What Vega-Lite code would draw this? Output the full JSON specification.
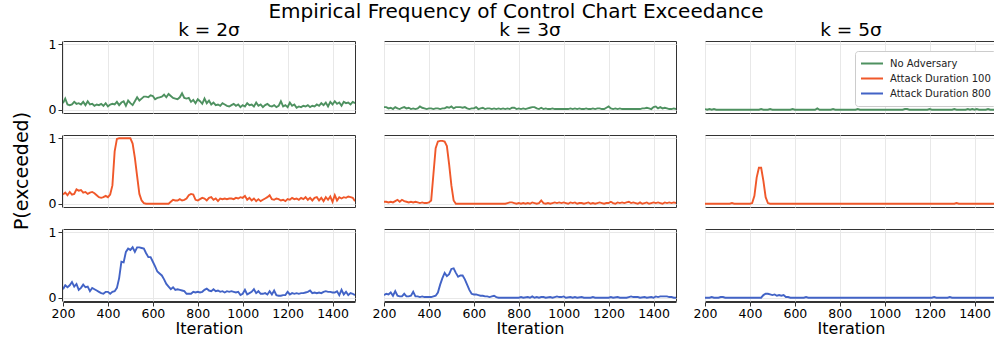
{
"$schema": "https://vega.github.io/schema/vega-lite/v6.json",
"title": {"text": "Empirical Frequency of Control Chart Exceedance", "fontSize": 20, "font": "DejaVu Sans", "fontWeight": "normal", "color": "#000", "anchor": "middle", "offset": -1, "dx": 11},
"padding": {"left": 12, "top": 1, "right": 0, "bottom": 0},
"background": "white",
"data": {"values": [
{"k":2,"s":"N","x":200,"y":0.10},{"k":2,"s":"N","x":210,"y":0.17},{"k":2,"s":"N","x":220,"y":0.08},{"k":2,"s":"N","x":230,"y":0.07},{"k":2,"s":"N","x":240,"y":0.08},{"k":2,"s":"N","x":250,"y":0.12},{"k":2,"s":"N","x":260,"y":0.09},{"k":2,"s":"N","x":270,"y":0.10},{"k":2,"s":"N","x":280,"y":0.08},{"k":2,"s":"N","x":290,"y":0.12},{"k":2,"s":"N","x":300,"y":0.07},{"k":2,"s":"N","x":310,"y":0.13},{"k":2,"s":"N","x":320,"y":0.08},{"k":2,"s":"N","x":330,"y":0.09},{"k":2,"s":"N","x":340,"y":0.06},{"k":2,"s":"N","x":350,"y":0.08},{"k":2,"s":"N","x":360,"y":0.07},{"k":2,"s":"N","x":370,"y":0.09},{"k":2,"s":"N","x":380,"y":0.06},{"k":2,"s":"N","x":390,"y":0.10},{"k":2,"s":"N","x":400,"y":0.05},{"k":2,"s":"N","x":410,"y":0.08},{"k":2,"s":"N","x":420,"y":0.09},{"k":2,"s":"N","x":430,"y":0.08},{"k":2,"s":"N","x":440,"y":0.12},{"k":2,"s":"N","x":450,"y":0.07},{"k":2,"s":"N","x":460,"y":0.11},{"k":2,"s":"N","x":470,"y":0.13},{"k":2,"s":"N","x":480,"y":0.06},{"k":2,"s":"N","x":490,"y":0.14},{"k":2,"s":"N","x":500,"y":0.10},{"k":2,"s":"N","x":510,"y":0.07},{"k":2,"s":"N","x":520,"y":0.13},{"k":2,"s":"N","x":530,"y":0.19},{"k":2,"s":"N","x":540,"y":0.14},{"k":2,"s":"N","x":550,"y":0.17},{"k":2,"s":"N","x":560,"y":0.20},{"k":2,"s":"N","x":570,"y":0.20},{"k":2,"s":"N","x":580,"y":0.19},{"k":2,"s":"N","x":590,"y":0.22},{"k":2,"s":"N","x":600,"y":0.21},{"k":2,"s":"N","x":610,"y":0.16},{"k":2,"s":"N","x":620,"y":0.18},{"k":2,"s":"N","x":630,"y":0.19},{"k":2,"s":"N","x":640,"y":0.20},{"k":2,"s":"N","x":650,"y":0.23},{"k":2,"s":"N","x":660,"y":0.19},{"k":2,"s":"N","x":670,"y":0.24},{"k":2,"s":"N","x":680,"y":0.21},{"k":2,"s":"N","x":690,"y":0.18},{"k":2,"s":"N","x":700,"y":0.17},{"k":2,"s":"N","x":710,"y":0.16},{"k":2,"s":"N","x":720,"y":0.19},{"k":2,"s":"N","x":730,"y":0.25},{"k":2,"s":"N","x":740,"y":0.18},{"k":2,"s":"N","x":750,"y":0.17},{"k":2,"s":"N","x":760,"y":0.18},{"k":2,"s":"N","x":770,"y":0.12},{"k":2,"s":"N","x":780,"y":0.15},{"k":2,"s":"N","x":790,"y":0.10},{"k":2,"s":"N","x":800,"y":0.16},{"k":2,"s":"N","x":810,"y":0.13},{"k":2,"s":"N","x":820,"y":0.09},{"k":2,"s":"N","x":830,"y":0.17},{"k":2,"s":"N","x":840,"y":0.10},{"k":2,"s":"N","x":850,"y":0.14},{"k":2,"s":"N","x":860,"y":0.08},{"k":2,"s":"N","x":870,"y":0.11},{"k":2,"s":"N","x":880,"y":0.07},{"k":2,"s":"N","x":890,"y":0.08},{"k":2,"s":"N","x":900,"y":0.06},{"k":2,"s":"N","x":910,"y":0.10},{"k":2,"s":"N","x":920,"y":0.08},{"k":2,"s":"N","x":930,"y":0.06},{"k":2,"s":"N","x":940,"y":0.05},{"k":2,"s":"N","x":950,"y":0.07},{"k":2,"s":"N","x":960,"y":0.09},{"k":2,"s":"N","x":970,"y":0.06},{"k":2,"s":"N","x":980,"y":0.08},{"k":2,"s":"N","x":990,"y":0.04},{"k":2,"s":"N","x":1000,"y":0.07},{"k":2,"s":"N","x":1010,"y":0.05},{"k":2,"s":"N","x":1020,"y":0.10},{"k":2,"s":"N","x":1030,"y":0.07},{"k":2,"s":"N","x":1040,"y":0.08},{"k":2,"s":"N","x":1050,"y":0.05},{"k":2,"s":"N","x":1060,"y":0.11},{"k":2,"s":"N","x":1070,"y":0.06},{"k":2,"s":"N","x":1080,"y":0.08},{"k":2,"s":"N","x":1090,"y":0.04},{"k":2,"s":"N","x":1100,"y":0.07},{"k":2,"s":"N","x":1110,"y":0.09},{"k":2,"s":"N","x":1120,"y":0.06},{"k":2,"s":"N","x":1130,"y":0.05},{"k":2,"s":"N","x":1140,"y":0.07},{"k":2,"s":"N","x":1150,"y":0.04},{"k":2,"s":"N","x":1160,"y":0.06},{"k":2,"s":"N","x":1170,"y":0.13},{"k":2,"s":"N","x":1180,"y":0.05},{"k":2,"s":"N","x":1190,"y":0.07},{"k":2,"s":"N","x":1200,"y":0.04},{"k":2,"s":"N","x":1210,"y":0.11},{"k":2,"s":"N","x":1220,"y":0.06},{"k":2,"s":"N","x":1230,"y":0.08},{"k":2,"s":"N","x":1240,"y":0.03},{"k":2,"s":"N","x":1250,"y":0.05},{"k":2,"s":"N","x":1260,"y":0.04},{"k":2,"s":"N","x":1270,"y":0.06},{"k":2,"s":"N","x":1280,"y":0.05},{"k":2,"s":"N","x":1290,"y":0.07},{"k":2,"s":"N","x":1300,"y":0.04},{"k":2,"s":"N","x":1310,"y":0.06},{"k":2,"s":"N","x":1320,"y":0.05},{"k":2,"s":"N","x":1330,"y":0.08},{"k":2,"s":"N","x":1340,"y":0.06},{"k":2,"s":"N","x":1350,"y":0.10},{"k":2,"s":"N","x":1360,"y":0.07},{"k":2,"s":"N","x":1370,"y":0.11},{"k":2,"s":"N","x":1380,"y":0.05},{"k":2,"s":"N","x":1390,"y":0.12},{"k":2,"s":"N","x":1400,"y":0.08},{"k":2,"s":"N","x":1410,"y":0.13},{"k":2,"s":"N","x":1420,"y":0.09},{"k":2,"s":"N","x":1430,"y":0.11},{"k":2,"s":"N","x":1440,"y":0.06},{"k":2,"s":"N","x":1450,"y":0.12},{"k":2,"s":"N","x":1460,"y":0.10},{"k":2,"s":"N","x":1470,"y":0.11},{"k":2,"s":"N","x":1480,"y":0.08},{"k":2,"s":"N","x":1490,"y":0.12},{"k":2,"s":"N","x":1500,"y":0.10},
{"k":2,"s":"A100","x":200,"y":0.14},{"k":2,"s":"A100","x":210,"y":0.17},{"k":2,"s":"A100","x":220,"y":0.13},{"k":2,"s":"A100","x":230,"y":0.18},{"k":2,"s":"A100","x":240,"y":0.14},{"k":2,"s":"A100","x":250,"y":0.15},{"k":2,"s":"A100","x":260,"y":0.22},{"k":2,"s":"A100","x":270,"y":0.20},{"k":2,"s":"A100","x":280,"y":0.21},{"k":2,"s":"A100","x":290,"y":0.17},{"k":2,"s":"A100","x":300,"y":0.18},{"k":2,"s":"A100","x":310,"y":0.15},{"k":2,"s":"A100","x":320,"y":0.17},{"k":2,"s":"A100","x":330,"y":0.18},{"k":2,"s":"A100","x":340,"y":0.16},{"k":2,"s":"A100","x":350,"y":0.13},{"k":2,"s":"A100","x":360,"y":0.10},{"k":2,"s":"A100","x":370,"y":0.09},{"k":2,"s":"A100","x":380,"y":0.10},{"k":2,"s":"A100","x":390,"y":0.12},{"k":2,"s":"A100","x":400,"y":0.10},{"k":2,"s":"A100","x":410,"y":0.14},{"k":2,"s":"A100","x":420,"y":0.28},{"k":2,"s":"A100","x":430,"y":0.80},{"k":2,"s":"A100","x":440,"y":0.99},{"k":2,"s":"A100","x":450,"y":1.0},{"k":2,"s":"A100","x":460,"y":1.0},{"k":2,"s":"A100","x":470,"y":1.0},{"k":2,"s":"A100","x":480,"y":1.0},{"k":2,"s":"A100","x":490,"y":1.0},{"k":2,"s":"A100","x":500,"y":1.0},{"k":2,"s":"A100","x":510,"y":0.92},{"k":2,"s":"A100","x":520,"y":0.70},{"k":2,"s":"A100","x":530,"y":0.42},{"k":2,"s":"A100","x":540,"y":0.15},{"k":2,"s":"A100","x":550,"y":0.05},{"k":2,"s":"A100","x":560,"y":0.01},{"k":2,"s":"A100","x":570,"y":0.0},{"k":2,"s":"A100","x":600,"y":0.0},{"k":2,"s":"A100","x":640,"y":0.0},{"k":2,"s":"A100","x":670,"y":0.0},{"k":2,"s":"A100","x":680,"y":0.03},{"k":2,"s":"A100","x":690,"y":0.06},{"k":2,"s":"A100","x":700,"y":0.05},{"k":2,"s":"A100","x":710,"y":0.05},{"k":2,"s":"A100","x":720,"y":0.07},{"k":2,"s":"A100","x":730,"y":0.05},{"k":2,"s":"A100","x":740,"y":0.06},{"k":2,"s":"A100","x":750,"y":0.08},{"k":2,"s":"A100","x":760,"y":0.13},{"k":2,"s":"A100","x":770,"y":0.15},{"k":2,"s":"A100","x":780,"y":0.14},{"k":2,"s":"A100","x":790,"y":0.06},{"k":2,"s":"A100","x":800,"y":0.05},{"k":2,"s":"A100","x":810,"y":0.07},{"k":2,"s":"A100","x":820,"y":0.09},{"k":2,"s":"A100","x":830,"y":0.08},{"k":2,"s":"A100","x":840,"y":0.05},{"k":2,"s":"A100","x":850,"y":0.09},{"k":2,"s":"A100","x":860,"y":0.10},{"k":2,"s":"A100","x":870,"y":0.06},{"k":2,"s":"A100","x":880,"y":0.08},{"k":2,"s":"A100","x":890,"y":0.04},{"k":2,"s":"A100","x":900,"y":0.08},{"k":2,"s":"A100","x":910,"y":0.07},{"k":2,"s":"A100","x":920,"y":0.08},{"k":2,"s":"A100","x":930,"y":0.07},{"k":2,"s":"A100","x":940,"y":0.08},{"k":2,"s":"A100","x":950,"y":0.08},{"k":2,"s":"A100","x":960,"y":0.07},{"k":2,"s":"A100","x":970,"y":0.09},{"k":2,"s":"A100","x":980,"y":0.08},{"k":2,"s":"A100","x":990,"y":0.10},{"k":2,"s":"A100","x":1000,"y":0.09},{"k":2,"s":"A100","x":1010,"y":0.12},{"k":2,"s":"A100","x":1020,"y":0.06},{"k":2,"s":"A100","x":1030,"y":0.09},{"k":2,"s":"A100","x":1040,"y":0.05},{"k":2,"s":"A100","x":1050,"y":0.08},{"k":2,"s":"A100","x":1060,"y":0.04},{"k":2,"s":"A100","x":1070,"y":0.07},{"k":2,"s":"A100","x":1080,"y":0.04},{"k":2,"s":"A100","x":1090,"y":0.06},{"k":2,"s":"A100","x":1100,"y":0.08},{"k":2,"s":"A100","x":1110,"y":0.10},{"k":2,"s":"A100","x":1120,"y":0.13},{"k":2,"s":"A100","x":1130,"y":0.07},{"k":2,"s":"A100","x":1140,"y":0.06},{"k":2,"s":"A100","x":1150,"y":0.08},{"k":2,"s":"A100","x":1160,"y":0.07},{"k":2,"s":"A100","x":1170,"y":0.05},{"k":2,"s":"A100","x":1180,"y":0.06},{"k":2,"s":"A100","x":1190,"y":0.04},{"k":2,"s":"A100","x":1200,"y":0.07},{"k":2,"s":"A100","x":1210,"y":0.06},{"k":2,"s":"A100","x":1220,"y":0.09},{"k":2,"s":"A100","x":1230,"y":0.07},{"k":2,"s":"A100","x":1240,"y":0.08},{"k":2,"s":"A100","x":1250,"y":0.06},{"k":2,"s":"A100","x":1260,"y":0.09},{"k":2,"s":"A100","x":1270,"y":0.07},{"k":2,"s":"A100","x":1280,"y":0.10},{"k":2,"s":"A100","x":1290,"y":0.06},{"k":2,"s":"A100","x":1300,"y":0.09},{"k":2,"s":"A100","x":1310,"y":0.05},{"k":2,"s":"A100","x":1320,"y":0.09},{"k":2,"s":"A100","x":1330,"y":0.10},{"k":2,"s":"A100","x":1340,"y":0.05},{"k":2,"s":"A100","x":1350,"y":0.09},{"k":2,"s":"A100","x":1360,"y":0.04},{"k":2,"s":"A100","x":1370,"y":0.10},{"k":2,"s":"A100","x":1380,"y":0.06},{"k":2,"s":"A100","x":1390,"y":0.11},{"k":2,"s":"A100","x":1400,"y":0.03},{"k":2,"s":"A100","x":1410,"y":0.13},{"k":2,"s":"A100","x":1420,"y":0.05},{"k":2,"s":"A100","x":1430,"y":0.10},{"k":2,"s":"A100","x":1440,"y":0.08},{"k":2,"s":"A100","x":1450,"y":0.10},{"k":2,"s":"A100","x":1460,"y":0.09},{"k":2,"s":"A100","x":1470,"y":0.11},{"k":2,"s":"A100","x":1480,"y":0.10},{"k":2,"s":"A100","x":1490,"y":0.09},{"k":2,"s":"A100","x":1500,"y":0.04},
{"k":2,"s":"A800","x":200,"y":0.13},{"k":2,"s":"A800","x":210,"y":0.19},{"k":2,"s":"A800","x":220,"y":0.16},{"k":2,"s":"A800","x":230,"y":0.19},{"k":2,"s":"A800","x":240,"y":0.24},{"k":2,"s":"A800","x":250,"y":0.17},{"k":2,"s":"A800","x":260,"y":0.21},{"k":2,"s":"A800","x":270,"y":0.12},{"k":2,"s":"A800","x":280,"y":0.15},{"k":2,"s":"A800","x":290,"y":0.20},{"k":2,"s":"A800","x":300,"y":0.16},{"k":2,"s":"A800","x":310,"y":0.17},{"k":2,"s":"A800","x":320,"y":0.10},{"k":2,"s":"A800","x":330,"y":0.15},{"k":2,"s":"A800","x":340,"y":0.13},{"k":2,"s":"A800","x":350,"y":0.11},{"k":2,"s":"A800","x":360,"y":0.09},{"k":2,"s":"A800","x":370,"y":0.07},{"k":2,"s":"A800","x":380,"y":0.06},{"k":2,"s":"A800","x":390,"y":0.09},{"k":2,"s":"A800","x":400,"y":0.09},{"k":2,"s":"A800","x":410,"y":0.06},{"k":2,"s":"A800","x":420,"y":0.09},{"k":2,"s":"A800","x":430,"y":0.10},{"k":2,"s":"A800","x":440,"y":0.15},{"k":2,"s":"A800","x":450,"y":0.30},{"k":2,"s":"A800","x":460,"y":0.55},{"k":2,"s":"A800","x":470,"y":0.54},{"k":2,"s":"A800","x":480,"y":0.70},{"k":2,"s":"A800","x":490,"y":0.75},{"k":2,"s":"A800","x":500,"y":0.73},{"k":2,"s":"A800","x":510,"y":0.77},{"k":2,"s":"A800","x":520,"y":0.70},{"k":2,"s":"A800","x":530,"y":0.77},{"k":2,"s":"A800","x":540,"y":0.77},{"k":2,"s":"A800","x":550,"y":0.76},{"k":2,"s":"A800","x":560,"y":0.75},{"k":2,"s":"A800","x":570,"y":0.68},{"k":2,"s":"A800","x":580,"y":0.62},{"k":2,"s":"A800","x":590,"y":0.62},{"k":2,"s":"A800","x":600,"y":0.55},{"k":2,"s":"A800","x":610,"y":0.48},{"k":2,"s":"A800","x":620,"y":0.40},{"k":2,"s":"A800","x":630,"y":0.37},{"k":2,"s":"A800","x":640,"y":0.34},{"k":2,"s":"A800","x":650,"y":0.28},{"k":2,"s":"A800","x":660,"y":0.21},{"k":2,"s":"A800","x":670,"y":0.17},{"k":2,"s":"A800","x":680,"y":0.13},{"k":2,"s":"A800","x":690,"y":0.16},{"k":2,"s":"A800","x":700,"y":0.12},{"k":2,"s":"A800","x":710,"y":0.13},{"k":2,"s":"A800","x":720,"y":0.12},{"k":2,"s":"A800","x":730,"y":0.11},{"k":2,"s":"A800","x":740,"y":0.10},{"k":2,"s":"A800","x":750,"y":0.06},{"k":2,"s":"A800","x":760,"y":0.06},{"k":2,"s":"A800","x":770,"y":0.06},{"k":2,"s":"A800","x":780,"y":0.09},{"k":2,"s":"A800","x":790,"y":0.08},{"k":2,"s":"A800","x":800,"y":0.09},{"k":2,"s":"A800","x":810,"y":0.08},{"k":2,"s":"A800","x":820,"y":0.09},{"k":2,"s":"A800","x":830,"y":0.12},{"k":2,"s":"A800","x":840,"y":0.14},{"k":2,"s":"A800","x":850,"y":0.11},{"k":2,"s":"A800","x":860,"y":0.10},{"k":2,"s":"A800","x":870,"y":0.13},{"k":2,"s":"A800","x":880,"y":0.10},{"k":2,"s":"A800","x":890,"y":0.11},{"k":2,"s":"A800","x":900,"y":0.09},{"k":2,"s":"A800","x":910,"y":0.10},{"k":2,"s":"A800","x":920,"y":0.08},{"k":2,"s":"A800","x":930,"y":0.10},{"k":2,"s":"A800","x":940,"y":0.09},{"k":2,"s":"A800","x":950,"y":0.10},{"k":2,"s":"A800","x":960,"y":0.09},{"k":2,"s":"A800","x":970,"y":0.08},{"k":2,"s":"A800","x":980,"y":0.09},{"k":2,"s":"A800","x":990,"y":0.04},{"k":2,"s":"A800","x":1000,"y":0.06},{"k":2,"s":"A800","x":1010,"y":0.12},{"k":2,"s":"A800","x":1020,"y":0.05},{"k":2,"s":"A800","x":1030,"y":0.07},{"k":2,"s":"A800","x":1040,"y":0.09},{"k":2,"s":"A800","x":1050,"y":0.13},{"k":2,"s":"A800","x":1060,"y":0.07},{"k":2,"s":"A800","x":1070,"y":0.10},{"k":2,"s":"A800","x":1080,"y":0.06},{"k":2,"s":"A800","x":1090,"y":0.06},{"k":2,"s":"A800","x":1100,"y":0.07},{"k":2,"s":"A800","x":1110,"y":0.05},{"k":2,"s":"A800","x":1120,"y":0.10},{"k":2,"s":"A800","x":1130,"y":0.05},{"k":2,"s":"A800","x":1140,"y":0.11},{"k":2,"s":"A800","x":1150,"y":0.04},{"k":2,"s":"A800","x":1160,"y":0.03},{"k":2,"s":"A800","x":1170,"y":0.03},{"k":2,"s":"A800","x":1180,"y":0.04},{"k":2,"s":"A800","x":1190,"y":0.04},{"k":2,"s":"A800","x":1200,"y":0.09},{"k":2,"s":"A800","x":1210,"y":0.05},{"k":2,"s":"A800","x":1220,"y":0.07},{"k":2,"s":"A800","x":1230,"y":0.06},{"k":2,"s":"A800","x":1240,"y":0.07},{"k":2,"s":"A800","x":1250,"y":0.06},{"k":2,"s":"A800","x":1260,"y":0.07},{"k":2,"s":"A800","x":1270,"y":0.07},{"k":2,"s":"A800","x":1280,"y":0.08},{"k":2,"s":"A800","x":1290,"y":0.09},{"k":2,"s":"A800","x":1300,"y":0.11},{"k":2,"s":"A800","x":1310,"y":0.07},{"k":2,"s":"A800","x":1320,"y":0.08},{"k":2,"s":"A800","x":1330,"y":0.07},{"k":2,"s":"A800","x":1340,"y":0.08},{"k":2,"s":"A800","x":1350,"y":0.07},{"k":2,"s":"A800","x":1360,"y":0.09},{"k":2,"s":"A800","x":1370,"y":0.10},{"k":2,"s":"A800","x":1380,"y":0.09},{"k":2,"s":"A800","x":1390,"y":0.09},{"k":2,"s":"A800","x":1400,"y":0.08},{"k":2,"s":"A800","x":1410,"y":0.08},{"k":2,"s":"A800","x":1420,"y":0.10},{"k":2,"s":"A800","x":1430,"y":0.04},{"k":2,"s":"A800","x":1440,"y":0.12},{"k":2,"s":"A800","x":1450,"y":0.05},{"k":2,"s":"A800","x":1460,"y":0.09},{"k":2,"s":"A800","x":1470,"y":0.04},{"k":2,"s":"A800","x":1480,"y":0.07},{"k":2,"s":"A800","x":1490,"y":0.06},{"k":2,"s":"A800","x":1500,"y":0.04},
{"k":3,"s":"N","x":200,"y":0.04},{"k":3,"s":"N","x":210,"y":0.04},{"k":3,"s":"N","x":220,"y":0.02},{"k":3,"s":"N","x":230,"y":0.03},{"k":3,"s":"N","x":240,"y":0.01},{"k":3,"s":"N","x":250,"y":0.04},{"k":3,"s":"N","x":260,"y":0.02},{"k":3,"s":"N","x":270,"y":0.01},{"k":3,"s":"N","x":280,"y":0.03},{"k":3,"s":"N","x":290,"y":0.04},{"k":3,"s":"N","x":300,"y":0.02},{"k":3,"s":"N","x":310,"y":0.03},{"k":3,"s":"N","x":320,"y":0.01},{"k":3,"s":"N","x":330,"y":0.02},{"k":3,"s":"N","x":340,"y":0.01},{"k":3,"s":"N","x":350,"y":0.02},{"k":3,"s":"N","x":360,"y":0.05},{"k":3,"s":"N","x":370,"y":0.03},{"k":3,"s":"N","x":380,"y":0.02},{"k":3,"s":"N","x":390,"y":0.01},{"k":3,"s":"N","x":400,"y":0.02},{"k":3,"s":"N","x":410,"y":0.02},{"k":3,"s":"N","x":420,"y":0.01},{"k":3,"s":"N","x":430,"y":0.02},{"k":3,"s":"N","x":440,"y":0.02},{"k":3,"s":"N","x":450,"y":0.01},{"k":3,"s":"N","x":460,"y":0.02},{"k":3,"s":"N","x":470,"y":0.02},{"k":3,"s":"N","x":480,"y":0.04},{"k":3,"s":"N","x":490,"y":0.03},{"k":3,"s":"N","x":500,"y":0.05},{"k":3,"s":"N","x":510,"y":0.02},{"k":3,"s":"N","x":520,"y":0.04},{"k":3,"s":"N","x":530,"y":0.04},{"k":3,"s":"N","x":540,"y":0.04},{"k":3,"s":"N","x":550,"y":0.03},{"k":3,"s":"N","x":560,"y":0.04},{"k":3,"s":"N","x":570,"y":0.02},{"k":3,"s":"N","x":580,"y":0.01},{"k":3,"s":"N","x":590,"y":0.02},{"k":3,"s":"N","x":600,"y":0.02},{"k":3,"s":"N","x":610,"y":0.04},{"k":3,"s":"N","x":620,"y":0.01},{"k":3,"s":"N","x":630,"y":0.02},{"k":3,"s":"N","x":640,"y":0.03},{"k":3,"s":"N","x":650,"y":0.01},{"k":3,"s":"N","x":660,"y":0.02},{"k":3,"s":"N","x":670,"y":0.02},{"k":3,"s":"N","x":680,"y":0.01},{"k":3,"s":"N","x":690,"y":0.02},{"k":3,"s":"N","x":700,"y":0.01},{"k":3,"s":"N","x":710,"y":0.02},{"k":3,"s":"N","x":720,"y":0.01},{"k":3,"s":"N","x":730,"y":0.02},{"k":3,"s":"N","x":740,"y":0.01},{"k":3,"s":"N","x":750,"y":0.02},{"k":3,"s":"N","x":760,"y":0.01},{"k":3,"s":"N","x":770,"y":0.03},{"k":3,"s":"N","x":780,"y":0.03},{"k":3,"s":"N","x":790,"y":0.01},{"k":3,"s":"N","x":800,"y":0.02},{"k":3,"s":"N","x":810,"y":0.01},{"k":3,"s":"N","x":820,"y":0.02},{"k":3,"s":"N","x":830,"y":0.01},{"k":3,"s":"N","x":840,"y":0.02},{"k":3,"s":"N","x":850,"y":0.03},{"k":3,"s":"N","x":860,"y":0.04},{"k":3,"s":"N","x":870,"y":0.04},{"k":3,"s":"N","x":880,"y":0.02},{"k":3,"s":"N","x":890,"y":0.01},{"k":3,"s":"N","x":900,"y":0.03},{"k":3,"s":"N","x":910,"y":0.01},{"k":3,"s":"N","x":920,"y":0.02},{"k":3,"s":"N","x":930,"y":0.01},{"k":3,"s":"N","x":940,"y":0.01},{"k":3,"s":"N","x":950,"y":0.02},{"k":3,"s":"N","x":960,"y":0.01},{"k":3,"s":"N","x":970,"y":0.01},{"k":3,"s":"N","x":980,"y":0.01},{"k":3,"s":"N","x":990,"y":0.01},{"k":3,"s":"N","x":1000,"y":0.01},{"k":3,"s":"N","x":1010,"y":0.01},{"k":3,"s":"N","x":1020,"y":0.01},{"k":3,"s":"N","x":1030,"y":0.02},{"k":3,"s":"N","x":1040,"y":0.01},{"k":3,"s":"N","x":1050,"y":0.02},{"k":3,"s":"N","x":1060,"y":0.01},{"k":3,"s":"N","x":1070,"y":0.02},{"k":3,"s":"N","x":1080,"y":0.01},{"k":3,"s":"N","x":1090,"y":0.01},{"k":3,"s":"N","x":1100,"y":0.02},{"k":3,"s":"N","x":1110,"y":0.01},{"k":3,"s":"N","x":1120,"y":0.01},{"k":3,"s":"N","x":1130,"y":0.02},{"k":3,"s":"N","x":1140,"y":0.01},{"k":3,"s":"N","x":1150,"y":0.02},{"k":3,"s":"N","x":1160,"y":0.02},{"k":3,"s":"N","x":1170,"y":0.01},{"k":3,"s":"N","x":1180,"y":0.01},{"k":3,"s":"N","x":1190,"y":0.03},{"k":3,"s":"N","x":1200,"y":0.05},{"k":3,"s":"N","x":1210,"y":0.02},{"k":3,"s":"N","x":1220,"y":0.01},{"k":3,"s":"N","x":1230,"y":0.02},{"k":3,"s":"N","x":1240,"y":0.01},{"k":3,"s":"N","x":1250,"y":0.02},{"k":3,"s":"N","x":1260,"y":0.01},{"k":3,"s":"N","x":1270,"y":0.01},{"k":3,"s":"N","x":1280,"y":0.01},{"k":3,"s":"N","x":1290,"y":0.01},{"k":3,"s":"N","x":1300,"y":0.01},{"k":3,"s":"N","x":1310,"y":0.01},{"k":3,"s":"N","x":1320,"y":0.01},{"k":3,"s":"N","x":1330,"y":0.01},{"k":3,"s":"N","x":1340,"y":0.01},{"k":3,"s":"N","x":1350,"y":0.02},{"k":3,"s":"N","x":1360,"y":0.02},{"k":3,"s":"N","x":1370,"y":0.03},{"k":3,"s":"N","x":1380,"y":0.02},{"k":3,"s":"N","x":1390,"y":0.01},{"k":3,"s":"N","x":1400,"y":0.04},{"k":3,"s":"N","x":1410,"y":0.05},{"k":3,"s":"N","x":1420,"y":0.02},{"k":3,"s":"N","x":1430,"y":0.04},{"k":3,"s":"N","x":1440,"y":0.02},{"k":3,"s":"N","x":1450,"y":0.03},{"k":3,"s":"N","x":1460,"y":0.02},{"k":3,"s":"N","x":1470,"y":0.01},{"k":3,"s":"N","x":1480,"y":0.01},{"k":3,"s":"N","x":1490,"y":0.02},{"k":3,"s":"N","x":1500,"y":0.01},
{"k":3,"s":"A100","x":200,"y":0.03},{"k":3,"s":"A100","x":210,"y":0.03},{"k":3,"s":"A100","x":220,"y":0.02},{"k":3,"s":"A100","x":230,"y":0.03},{"k":3,"s":"A100","x":240,"y":0.02},{"k":3,"s":"A100","x":250,"y":0.04},{"k":3,"s":"A100","x":260,"y":0.06},{"k":3,"s":"A100","x":270,"y":0.03},{"k":3,"s":"A100","x":280,"y":0.06},{"k":3,"s":"A100","x":290,"y":0.04},{"k":3,"s":"A100","x":300,"y":0.03},{"k":3,"s":"A100","x":310,"y":0.02},{"k":3,"s":"A100","x":320,"y":0.03},{"k":3,"s":"A100","x":330,"y":0.02},{"k":3,"s":"A100","x":340,"y":0.03},{"k":3,"s":"A100","x":350,"y":0.02},{"k":3,"s":"A100","x":360,"y":0.01},{"k":3,"s":"A100","x":370,"y":0.02},{"k":3,"s":"A100","x":380,"y":0.01},{"k":3,"s":"A100","x":390,"y":0.01},{"k":3,"s":"A100","x":400,"y":0.02},{"k":3,"s":"A100","x":410,"y":0.05},{"k":3,"s":"A100","x":420,"y":0.45},{"k":3,"s":"A100","x":430,"y":0.85},{"k":3,"s":"A100","x":440,"y":0.95},{"k":3,"s":"A100","x":450,"y":0.96},{"k":3,"s":"A100","x":460,"y":0.96},{"k":3,"s":"A100","x":470,"y":0.95},{"k":3,"s":"A100","x":480,"y":0.88},{"k":3,"s":"A100","x":490,"y":0.60},{"k":3,"s":"A100","x":500,"y":0.28},{"k":3,"s":"A100","x":510,"y":0.05},{"k":3,"s":"A100","x":520,"y":0.0},{"k":3,"s":"A100","x":600,"y":0.0},{"k":3,"s":"A100","x":700,"y":0.0},{"k":3,"s":"A100","x":740,"y":0.0},{"k":3,"s":"A100","x":750,"y":0.01},{"k":3,"s":"A100","x":760,"y":0.02},{"k":3,"s":"A100","x":770,"y":0.02},{"k":3,"s":"A100","x":780,"y":0.01},{"k":3,"s":"A100","x":790,"y":0.0},{"k":3,"s":"A100","x":800,"y":0.01},{"k":3,"s":"A100","x":810,"y":0.0},{"k":3,"s":"A100","x":820,"y":0.01},{"k":3,"s":"A100","x":830,"y":0.0},{"k":3,"s":"A100","x":840,"y":0.01},{"k":3,"s":"A100","x":850,"y":0.0},{"k":3,"s":"A100","x":860,"y":0.02},{"k":3,"s":"A100","x":870,"y":0.01},{"k":3,"s":"A100","x":880,"y":0.0},{"k":3,"s":"A100","x":890,"y":0.01},{"k":3,"s":"A100","x":900,"y":0.05},{"k":3,"s":"A100","x":910,"y":0.01},{"k":3,"s":"A100","x":920,"y":0.0},{"k":3,"s":"A100","x":930,"y":0.01},{"k":3,"s":"A100","x":940,"y":0.0},{"k":3,"s":"A100","x":950,"y":0.01},{"k":3,"s":"A100","x":960,"y":0.02},{"k":3,"s":"A100","x":970,"y":0.01},{"k":3,"s":"A100","x":980,"y":0.02},{"k":3,"s":"A100","x":990,"y":0.01},{"k":3,"s":"A100","x":1000,"y":0.02},{"k":3,"s":"A100","x":1010,"y":0.01},{"k":3,"s":"A100","x":1020,"y":0.0},{"k":3,"s":"A100","x":1030,"y":0.02},{"k":3,"s":"A100","x":1040,"y":0.01},{"k":3,"s":"A100","x":1050,"y":0.02},{"k":3,"s":"A100","x":1060,"y":0.0},{"k":3,"s":"A100","x":1070,"y":0.01},{"k":3,"s":"A100","x":1080,"y":0.01},{"k":3,"s":"A100","x":1090,"y":0.0},{"k":3,"s":"A100","x":1100,"y":0.01},{"k":3,"s":"A100","x":1110,"y":0.02},{"k":3,"s":"A100","x":1120,"y":0.0},{"k":3,"s":"A100","x":1130,"y":0.01},{"k":3,"s":"A100","x":1140,"y":0.0},{"k":3,"s":"A100","x":1150,"y":0.01},{"k":3,"s":"A100","x":1160,"y":0.02},{"k":3,"s":"A100","x":1170,"y":0.01},{"k":3,"s":"A100","x":1180,"y":0.0},{"k":3,"s":"A100","x":1190,"y":0.01},{"k":3,"s":"A100","x":1200,"y":0.01},{"k":3,"s":"A100","x":1210,"y":0.03},{"k":3,"s":"A100","x":1220,"y":0.01},{"k":3,"s":"A100","x":1230,"y":0.0},{"k":3,"s":"A100","x":1240,"y":0.02},{"k":3,"s":"A100","x":1250,"y":0.01},{"k":3,"s":"A100","x":1260,"y":0.02},{"k":3,"s":"A100","x":1270,"y":0.01},{"k":3,"s":"A100","x":1280,"y":0.02},{"k":3,"s":"A100","x":1290,"y":0.03},{"k":3,"s":"A100","x":1300,"y":0.01},{"k":3,"s":"A100","x":1310,"y":0.02},{"k":3,"s":"A100","x":1320,"y":0.01},{"k":3,"s":"A100","x":1330,"y":0.0},{"k":3,"s":"A100","x":1340,"y":0.02},{"k":3,"s":"A100","x":1350,"y":0.0},{"k":3,"s":"A100","x":1360,"y":0.01},{"k":3,"s":"A100","x":1370,"y":0.02},{"k":3,"s":"A100","x":1380,"y":0.0},{"k":3,"s":"A100","x":1390,"y":0.01},{"k":3,"s":"A100","x":1400,"y":0.02},{"k":3,"s":"A100","x":1410,"y":0.01},{"k":3,"s":"A100","x":1420,"y":0.02},{"k":3,"s":"A100","x":1430,"y":0.01},{"k":3,"s":"A100","x":1440,"y":0.0},{"k":3,"s":"A100","x":1450,"y":0.02},{"k":3,"s":"A100","x":1460,"y":0.01},{"k":3,"s":"A100","x":1470,"y":0.02},{"k":3,"s":"A100","x":1480,"y":0.01},{"k":3,"s":"A100","x":1490,"y":0.02},{"k":3,"s":"A100","x":1500,"y":0.01},
{"k":3,"s":"A800","x":200,"y":0.04},{"k":3,"s":"A800","x":210,"y":0.06},{"k":3,"s":"A800","x":220,"y":0.05},{"k":3,"s":"A800","x":230,"y":0.08},{"k":3,"s":"A800","x":240,"y":0.03},{"k":3,"s":"A800","x":250,"y":0.10},{"k":3,"s":"A800","x":260,"y":0.03},{"k":3,"s":"A800","x":270,"y":0.02},{"k":3,"s":"A800","x":280,"y":0.02},{"k":3,"s":"A800","x":290,"y":0.06},{"k":3,"s":"A800","x":300,"y":0.02},{"k":3,"s":"A800","x":310,"y":0.02},{"k":3,"s":"A800","x":320,"y":0.03},{"k":3,"s":"A800","x":330,"y":0.09},{"k":3,"s":"A800","x":340,"y":0.02},{"k":3,"s":"A800","x":350,"y":0.02},{"k":3,"s":"A800","x":360,"y":0.01},{"k":3,"s":"A800","x":370,"y":0.02},{"k":3,"s":"A800","x":380,"y":0.01},{"k":3,"s":"A800","x":390,"y":0.01},{"k":3,"s":"A800","x":400,"y":0.01},{"k":3,"s":"A800","x":410,"y":0.01},{"k":3,"s":"A800","x":420,"y":0.02},{"k":3,"s":"A800","x":430,"y":0.03},{"k":3,"s":"A800","x":440,"y":0.08},{"k":3,"s":"A800","x":450,"y":0.20},{"k":3,"s":"A800","x":460,"y":0.30},{"k":3,"s":"A800","x":470,"y":0.38},{"k":3,"s":"A800","x":480,"y":0.33},{"k":3,"s":"A800","x":490,"y":0.36},{"k":3,"s":"A800","x":500,"y":0.44},{"k":3,"s":"A800","x":510,"y":0.45},{"k":3,"s":"A800","x":520,"y":0.38},{"k":3,"s":"A800","x":530,"y":0.32},{"k":3,"s":"A800","x":540,"y":0.34},{"k":3,"s":"A800","x":550,"y":0.34},{"k":3,"s":"A800","x":560,"y":0.28},{"k":3,"s":"A800","x":570,"y":0.20},{"k":3,"s":"A800","x":580,"y":0.12},{"k":3,"s":"A800","x":590,"y":0.06},{"k":3,"s":"A800","x":600,"y":0.05},{"k":3,"s":"A800","x":610,"y":0.05},{"k":3,"s":"A800","x":620,"y":0.04},{"k":3,"s":"A800","x":630,"y":0.03},{"k":3,"s":"A800","x":640,"y":0.03},{"k":3,"s":"A800","x":650,"y":0.02},{"k":3,"s":"A800","x":660,"y":0.02},{"k":3,"s":"A800","x":670,"y":0.01},{"k":3,"s":"A800","x":680,"y":0.02},{"k":3,"s":"A800","x":690,"y":0.03},{"k":3,"s":"A800","x":700,"y":0.01},{"k":3,"s":"A800","x":710,"y":0.0},{"k":3,"s":"A800","x":750,"y":0.0},{"k":3,"s":"A800","x":800,"y":0.0},{"k":3,"s":"A800","x":810,"y":0.01},{"k":3,"s":"A800","x":820,"y":0.0},{"k":3,"s":"A800","x":840,"y":0.01},{"k":3,"s":"A800","x":850,"y":0.0},{"k":3,"s":"A800","x":860,"y":0.02},{"k":3,"s":"A800","x":870,"y":0.0},{"k":3,"s":"A800","x":880,"y":0.01},{"k":3,"s":"A800","x":890,"y":0.0},{"k":3,"s":"A800","x":900,"y":0.01},{"k":3,"s":"A800","x":910,"y":0.01},{"k":3,"s":"A800","x":920,"y":0.0},{"k":3,"s":"A800","x":940,"y":0.01},{"k":3,"s":"A800","x":950,"y":0.0},{"k":3,"s":"A800","x":960,"y":0.01},{"k":3,"s":"A800","x":970,"y":0.02},{"k":3,"s":"A800","x":980,"y":0.01},{"k":3,"s":"A800","x":990,"y":0.01},{"k":3,"s":"A800","x":1000,"y":0.02},{"k":3,"s":"A800","x":1010,"y":0.0},{"k":3,"s":"A800","x":1030,"y":0.01},{"k":3,"s":"A800","x":1040,"y":0.0},{"k":3,"s":"A800","x":1050,"y":0.01},{"k":3,"s":"A800","x":1060,"y":0.0},{"k":3,"s":"A800","x":1080,"y":0.01},{"k":3,"s":"A800","x":1090,"y":0.0},{"k":3,"s":"A800","x":1120,"y":0.0},{"k":3,"s":"A800","x":1130,"y":0.01},{"k":3,"s":"A800","x":1140,"y":0.0},{"k":3,"s":"A800","x":1200,"y":0.0},{"k":3,"s":"A800","x":1210,"y":0.01},{"k":3,"s":"A800","x":1220,"y":0.0},{"k":3,"s":"A800","x":1240,"y":0.01},{"k":3,"s":"A800","x":1250,"y":0.0},{"k":3,"s":"A800","x":1280,"y":0.0},{"k":3,"s":"A800","x":1290,"y":0.01},{"k":3,"s":"A800","x":1300,"y":0.02},{"k":3,"s":"A800","x":1310,"y":0.01},{"k":3,"s":"A800","x":1320,"y":0.01},{"k":3,"s":"A800","x":1330,"y":0.01},{"k":3,"s":"A800","x":1340,"y":0.0},{"k":3,"s":"A800","x":1360,"y":0.01},{"k":3,"s":"A800","x":1370,"y":0.0},{"k":3,"s":"A800","x":1390,"y":0.01},{"k":3,"s":"A800","x":1400,"y":0.0},{"k":3,"s":"A800","x":1410,"y":0.02},{"k":3,"s":"A800","x":1420,"y":0.01},{"k":3,"s":"A800","x":1430,"y":0.02},{"k":3,"s":"A800","x":1440,"y":0.02},{"k":3,"s":"A800","x":1450,"y":0.02},{"k":3,"s":"A800","x":1460,"y":0.02},{"k":3,"s":"A800","x":1470,"y":0.01},{"k":3,"s":"A800","x":1480,"y":0.01},{"k":3,"s":"A800","x":1490,"y":0.0},{"k":3,"s":"A800","x":1500,"y":0.0},
{"k":5,"s":"N","x":200,"y":0.01},{"k":5,"s":"N","x":210,"y":0.0},{"k":5,"s":"N","x":220,"y":0.01},{"k":5,"s":"N","x":230,"y":0.0},{"k":5,"s":"N","x":240,"y":0.01},{"k":5,"s":"N","x":250,"y":0.0},{"k":5,"s":"N","x":300,"y":0.0},{"k":5,"s":"N","x":400,"y":0.0},{"k":5,"s":"N","x":440,"y":0.0},{"k":5,"s":"N","x":450,"y":0.01},{"k":5,"s":"N","x":460,"y":0.0},{"k":5,"s":"N","x":480,"y":0.0},{"k":5,"s":"N","x":490,"y":0.01},{"k":5,"s":"N","x":500,"y":0.0},{"k":5,"s":"N","x":580,"y":0.0},{"k":5,"s":"N","x":590,"y":0.01},{"k":5,"s":"N","x":600,"y":0.0},{"k":5,"s":"N","x":690,"y":0.0},{"k":5,"s":"N","x":700,"y":0.02},{"k":5,"s":"N","x":710,"y":0.0},{"k":5,"s":"N","x":760,"y":0.0},{"k":5,"s":"N","x":770,"y":0.01},{"k":5,"s":"N","x":780,"y":0.0},{"k":5,"s":"N","x":870,"y":0.0},{"k":5,"s":"N","x":880,"y":0.01},{"k":5,"s":"N","x":890,"y":0.0},{"k":5,"s":"N","x":1080,"y":0.0},{"k":5,"s":"N","x":1090,"y":0.01},{"k":5,"s":"N","x":1100,"y":0.01},{"k":5,"s":"N","x":1110,"y":0.0},{"k":5,"s":"N","x":1190,"y":0.0},{"k":5,"s":"N","x":1200,"y":0.01},{"k":5,"s":"N","x":1210,"y":0.0},{"k":5,"s":"N","x":1300,"y":0.0},{"k":5,"s":"N","x":1310,"y":0.01},{"k":5,"s":"N","x":1320,"y":0.0},{"k":5,"s":"N","x":1360,"y":0.0},{"k":5,"s":"N","x":1370,"y":0.01},{"k":5,"s":"N","x":1380,"y":0.0},{"k":5,"s":"N","x":1390,"y":0.01},{"k":5,"s":"N","x":1400,"y":0.0},{"k":5,"s":"N","x":1410,"y":0.01},{"k":5,"s":"N","x":1420,"y":0.0},{"k":5,"s":"N","x":1450,"y":0.0},{"k":5,"s":"N","x":1460,"y":0.01},{"k":5,"s":"N","x":1470,"y":0.0},{"k":5,"s":"N","x":1500,"y":0.0},
{"k":5,"s":"A100","x":200,"y":0.0},{"k":5,"s":"A100","x":300,"y":0.0},{"k":5,"s":"A100","x":310,"y":0.0},{"k":5,"s":"A100","x":320,"y":0.01},{"k":5,"s":"A100","x":330,"y":0.0},{"k":5,"s":"A100","x":400,"y":0.0},{"k":5,"s":"A100","x":410,"y":0.01},{"k":5,"s":"A100","x":420,"y":0.12},{"k":5,"s":"A100","x":430,"y":0.40},{"k":5,"s":"A100","x":440,"y":0.55},{"k":5,"s":"A100","x":450,"y":0.55},{"k":5,"s":"A100","x":460,"y":0.35},{"k":5,"s":"A100","x":470,"y":0.10},{"k":5,"s":"A100","x":480,"y":0.01},{"k":5,"s":"A100","x":490,"y":0.0},{"k":5,"s":"A100","x":600,"y":0.0},{"k":5,"s":"A100","x":800,"y":0.0},{"k":5,"s":"A100","x":1000,"y":0.0},{"k":5,"s":"A100","x":1200,"y":0.0},{"k":5,"s":"A100","x":1310,"y":0.0},{"k":5,"s":"A100","x":1320,"y":0.01},{"k":5,"s":"A100","x":1330,"y":0.0},{"k":5,"s":"A100","x":1400,"y":0.0},{"k":5,"s":"A100","x":1500,"y":0.0},
{"k":5,"s":"A800","x":200,"y":0.0},{"k":5,"s":"A800","x":220,"y":0.0},{"k":5,"s":"A800","x":230,"y":0.01},{"k":5,"s":"A800","x":240,"y":0.0},{"k":5,"s":"A800","x":260,"y":0.0},{"k":5,"s":"A800","x":270,"y":0.01},{"k":5,"s":"A800","x":280,"y":0.01},{"k":5,"s":"A800","x":290,"y":0.0},{"k":5,"s":"A800","x":400,"y":0.0},{"k":5,"s":"A800","x":450,"y":0.0},{"k":5,"s":"A800","x":460,"y":0.04},{"k":5,"s":"A800","x":470,"y":0.06},{"k":5,"s":"A800","x":480,"y":0.06},{"k":5,"s":"A800","x":490,"y":0.05},{"k":5,"s":"A800","x":500,"y":0.04},{"k":5,"s":"A800","x":510,"y":0.05},{"k":5,"s":"A800","x":520,"y":0.03},{"k":5,"s":"A800","x":530,"y":0.04},{"k":5,"s":"A800","x":540,"y":0.03},{"k":5,"s":"A800","x":550,"y":0.04},{"k":5,"s":"A800","x":560,"y":0.01},{"k":5,"s":"A800","x":570,"y":0.01},{"k":5,"s":"A800","x":580,"y":0.0},{"k":5,"s":"A800","x":640,"y":0.0},{"k":5,"s":"A800","x":650,"y":0.01},{"k":5,"s":"A800","x":660,"y":0.0},{"k":5,"s":"A800","x":900,"y":0.0},{"k":5,"s":"A800","x":1210,"y":0.0},{"k":5,"s":"A800","x":1220,"y":0.01},{"k":5,"s":"A800","x":1230,"y":0.0},{"k":5,"s":"A800","x":1280,"y":0.0},{"k":5,"s":"A800","x":1290,"y":0.01},{"k":5,"s":"A800","x":1300,"y":0.0},{"k":5,"s":"A800","x":1500,"y":0.0}
]},
"facet": {
  "row": {"field": "s", "type": "nominal", "sort": ["N", "A100", "A800"], "header": {"title": "P(exceeded)", "labels": false, "titleFontSize": 19, "titleFont": "DejaVu Sans", "titleFontWeight": "normal", "titleColor": "#000", "titlePadding": 6.5}},
  "column": {"field": "k", "type": "ordinal", "sort": [2, 3, 5], "header": {"title": null, "labelExpr": "'k = ' + datum.value + 'σ'", "labelFontSize": 18.5, "labelFont": "DejaVu Sans", "labelColor": "#000", "labelPadding": 1}}
},
"spacing": {"row": 20, "column": 27},
"spec": {
  "width": 292,
  "height": 72,
  "mark": {"type": "line", "strokeWidth": 1.9, "clip": true},
  "encoding": {
    "x": {"field": "x", "type": "quantitative", "scale": {"domain": [200, 1500], "nice": false, "zero": false},
      "axis": {"title": "Iteration", "format": "d", "values": [200, 400, 600, 800, 1000, 1200, 1400], "titleFontSize": 16, "titleFontWeight": "normal", "titleColor": "#000", "labelFontSize": 12.5, "labelColor": "#000", "tickColor": "#333", "domainColor": "#333", "tickSize": 4, "labelPadding": 1, "titlePadding": 1, "grid": true, "gridColor": "#e8e8e8", "labelFlush": false}},
    "y": {"field": "y", "type": "quantitative", "scale": {"domain": [-0.05, 1.05], "nice": false, "zero": false},
      "axis": {"title": null, "format": "d", "values": [0, 1], "labelFontSize": 12.5, "labelColor": "#000", "tickColor": "#333", "domainColor": "#333", "tickSize": 4, "labelPadding": 2, "grid": true, "gridColor": "#e8e8e8"}},
    "color": {"field": "s", "type": "nominal", "scale": {"domain": ["N", "A100", "A800"], "range": ["#4e9160", "#f0582a", "#4263c6"]},
      "legend": {"title": null, "orient": "none", "legendX": 792, "legendY": 10, "symbolType": "stroke", "symbolSize": 484, "symbolStrokeWidth": 2, "clipHeight": 15, "rowPadding": 0, "labelFontSize": 10, "labelColor": "#222", "labelOffset": 6, "padding": 5, "fillColor": "white", "strokeColor": "#cccccc", "cornerRadius": 3,
        "labelExpr": "datum.value == 'N' ? 'No Adversary' : datum.value == 'A100' ? 'Attack Duration 100' : 'Attack Duration 800'"}}
  }
},
"config": {"view": {"stroke": "#333", "strokeWidth": 1}, "font": "DejaVu Sans", "axis": {"labelFont": "DejaVu Sans", "titleFont": "DejaVu Sans"}, "legend": {"labelFont": "DejaVu Sans"}}
}
